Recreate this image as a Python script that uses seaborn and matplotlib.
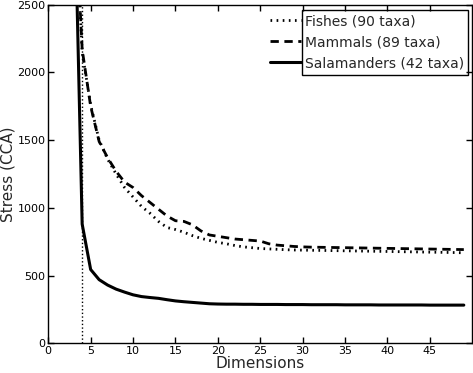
import numpy as np
import matplotlib
matplotlib.use('Agg')
import matplotlib.pyplot as plt
import matplotlib.patches as mpatches
import pandas as pd
import seaborn as sns

# stress values, dimensions 3..49
dims = list(range(3, 50))
fishes = [3450, 2150, 1760, 1500, 1360, 1250, 1150, 1080, 1010, 960, 900, 855, 840,
          820, 795, 775, 760, 745, 735, 722, 712, 706, 700, 697, 694, 691, 689, 688,
          687, 686, 685, 684, 683, 682, 681, 680, 679, 678, 677, 676, 675, 674, 673,
          672, 671, 670, 668]
mammals = [3450, 2170, 1750, 1490, 1370, 1270, 1190, 1150, 1090, 1040, 990, 940, 905,
           900, 875, 830, 800, 790, 780, 770, 765, 760, 755, 735, 725, 720, 715, 712,
           710, 709, 708, 707, 706, 705, 704, 703, 702, 701, 700, 699, 698, 697, 696,
           695, 694, 693, 692]
salamanders = [3600, 880, 545, 470, 430, 400, 378, 358, 345, 338, 332, 322, 313, 307,
               302, 297, 292, 290, 289, 289, 288, 288, 287, 287, 287, 286, 286, 286,
               285, 285, 285, 285, 284, 284, 284, 284, 283, 283, 283, 283, 283, 283,
               282, 282, 282, 282, 282]
labels = ['Fishes (90 taxa)', 'Mammals (89 taxa)', 'Salamanders (42 taxa)']
cutoff = 4

sns.set_style('ticks', {'xtick.direction': 'in', 'ytick.direction': 'in',
                        'xtick.top': True, 'ytick.right': True})
plt.rcParams['font.family'] = ['DejaVu Sans']

fig = plt.figure(figsize=(4.73, 3.73), dpi=100)
ax = fig.add_subplot(111)
fig.subplots_adjust(left=0.102, right=0.9985, top=0.9874, bottom=0.0796)

df = pd.DataFrame({'dims': dims, 'fishes': fishes, 'mammals': mammals,
                   'salamanders': salamanders})

sns.lineplot(data=df, x='dims', y='fishes', ax=ax, color='black', lw=2,
             label=labels[0])
sns.lineplot(data=df, x='dims', y='mammals', ax=ax, color='black', lw=2,
             label=labels[1])
sns.lineplot(data=df, x='dims', y='salamanders', ax=ax, color='black', lw=2.2,
             label=labels[2])
ax.lines[0].set_dashes((0.6, 1.6))
ax.lines[1].set_dashes((3, 2))
ax.axvline(cutoff, color='black', lw=1, linestyle=':')

ax.set_xlim(0, 50)
ax.set_ylim(0, 2500)
ax.set_xticks(range(0, 50, 5))
ax.set_yticks(range(0, 2501, 500))
ax.tick_params(labelsize=8, length=4, width=1, colors='black', pad=2)
for s in ax.spines.values():
    s.set_linewidth(1)
    s.set_color('black')
ax.set_xlabel('Dimensions', fontsize=11, labelpad=0)
ax.set_ylabel('Stress (CCA)', fontsize=11, labelpad=1)

leg = ax.legend(loc='upper left', bbox_to_anchor=(0.523, 0.972), frameon=False,
                fontsize=10, borderpad=0, handlelength=2.2, handletextpad=0.3,
                labelspacing=0.5, borderaxespad=0)
ax.add_patch(mpatches.Rectangle((0.598, 0.792), 0.392, 0.192, transform=ax.transAxes,
                                fill=False, edgecolor='black', lw=1, zorder=5))

fig.savefig('out.png', dpi=100)
